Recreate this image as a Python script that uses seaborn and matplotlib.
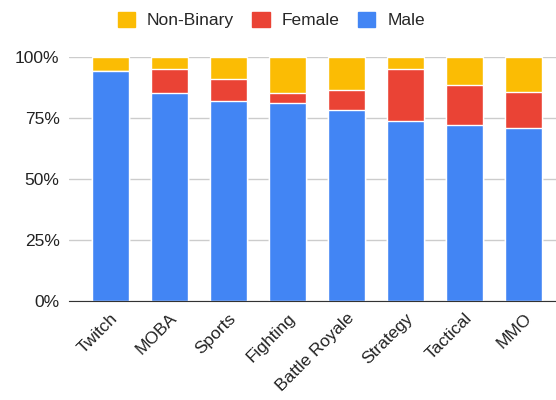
import numpy as np
import pandas as pd
import matplotlib.pyplot as plt
import seaborn as sns
from matplotlib.patches import Patch
from matplotlib.ticker import PercentFormatter

genres = ['Twitch', 'MOBA', 'Sports', 'Fighting', 'Battle Royale', 'Strategy', 'Tactical', 'MMO']
male = [94, 85, 82, 81, 78, 73.5, 72, 71]
female = [0, 10, 9, 4, 8.5, 21.5, 16.5, 14.5]
non_binary = [6, 5, 9, 15, 13.5, 5, 11.5, 14.5]

COLORS = {'Male': '#4285F4', 'Female': '#EA4335', 'Non-Binary': '#FBBC04'}

df = pd.DataFrame({'genre': genres, 'Male': male, 'Female': female, 'Non-Binary': non_binary})
# stacked bars by overlapping cumulative totals
df['m'] = df['Male']
df['mf'] = df['Male'] + df['Female']
df['all'] = df['mf'] + df['Non-Binary']

sns.set_style('white')
plt.rcParams['font.family'] = ['Liberation Sans', 'DejaVu Sans']

fig = plt.figure(figsize=(5.56, 4), dpi=100)
ax = fig.add_axes([0.1247, 0.2475, 0.8753, 0.6108])

for col, name in [('all', 'Non-Binary'), ('mf', 'Female'), ('m', 'Male')]:
    sns.barplot(data=df, x='genre', y=col, color=COLORS[name], saturation=1,
                width=0.63, ax=ax, zorder=3, errorbar=None)

ax.set_ylim(0, 100)
ax.set_xlim(-0.695, 7.55)
ax.set_yticks([0, 25, 50, 75, 100])
ax.yaxis.set_major_formatter(PercentFormatter(decimals=0))
ax.grid(axis='y', color='#cccccc', linewidth=1, zorder=0)
ax.set_xlabel('')
ax.set_ylabel('')
for s in ['top', 'right', 'left']:
    ax.spines[s].set_visible(False)
ax.spines['bottom'].set_color('#333333')
ax.spines['bottom'].set_zorder(4)
ax.tick_params(axis='both', length=0, labelsize=12.5, colors='#222222', pad=7)
plt.setp(ax.get_xticklabels(), rotation=45, ha='right', rotation_mode='anchor')

handles = [Patch(color=COLORS[n]) for n in ['Non-Binary', 'Female', 'Male']]
fig.legend(handles, ['Non-Binary', 'Female', 'Male'], loc='center', bbox_to_anchor=(0.488, 0.95),
           ncol=3, frameon=False, fontsize=12.5, handlelength=1.0, handleheight=1.0,
           columnspacing=1.05, handletextpad=0.7)

fig.savefig('out.png', dpi=100)
